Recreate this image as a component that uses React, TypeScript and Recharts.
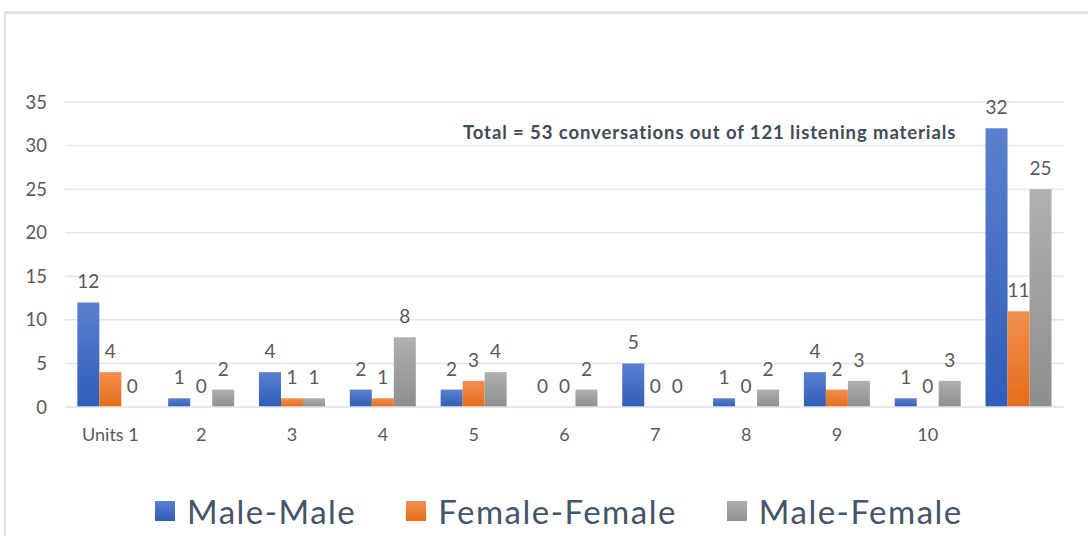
import React from "react";
import { BarChart, Bar, XAxis, YAxis, CartesianGrid, Legend, LabelList } from "recharts";

const units = ["Units 1", "2", "3", "4", "5", "6", "7", "8", "9", "10", ""];
const maleMale = [12, 1, 4, 2, 2, 0, 5, 1, 4, 1, 32];
const femaleFemale = [4, 0, 1, 1, 3, 0, 0, 0, 2, 0, 11];
const maleFemale = [0, 2, 1, 8, 4, 2, 0, 2, 3, 3, 25];
const yTicks = [0, 5, 10, 15, 20, 25, 30, 35];

const seriesInfo = [
  { key: "mm", name: "Male-Male", top: "#5b80cf", bottom: "#2f5db8" },
  { key: "ff", name: "Female-Female", top: "#f28f52", bottom: "#e66c18" },
  { key: "mf", name: "Male-Female", top: "#b0b0b0", bottom: "#8e8e8e" },
];

const data = units.map((u, i) => ({
  unit: u,
  mm: maleMale[i],
  ff: femaleFemale[i],
  mf: maleFemale[i],
}));

const FONT = "Lato, 'Liberation Sans', sans-serif";

const LegendBox = () => (
  <div
    style={{
      height: 50,
      display: "flex",
      alignItems: "center",
      paddingLeft: 155,
      fontFamily: FONT,
      fontSize: 33,
      letterSpacing: 1.5,
      color: "#44546a",
      gap: 50,
    }}
  >
    {seriesInfo.map((s) => (
      <div key={s.key} style={{ display: "flex", alignItems: "center" }}>
        <span
          style={{
            display: "inline-block",
            width: 20,
            height: 20,
            marginRight: 12,
            background: `linear-gradient(${s.top}, ${s.bottom})`,
          }}
        />
        <span>{s.name}</span>
      </div>
    ))}
  </div>
);

// keep zero-valued bars in the layout so their "0" labels are drawn
const zeroSize = (v: number) => (v === 0 ? 0.01 : 0);

const App: React.FC = () => {
  return (
    <div
      style={{
        position: "absolute",
        left: 0,
        top: 0,
        width: 1088,
        height: 536,
        background: "#fff",
        overflow: "hidden",
      }}
    >
      <div
        style={{
          position: "absolute",
          left: 4,
          top: 11,
          width: 1100,
          height: 600,
          borderLeft: "2px solid #dfe3ea",
          borderTop: "3px solid #dfe3ea",
        }}
      />
      <BarChart
        width={1088}
        height={536}
        data={data}
        margin={{ top: 102, right: 24, bottom: 0, left: 0 }}
        barCategoryGap="13.6%"
        barGap={0}
      >
        <defs>
          {seriesInfo.map((s) => (
            <linearGradient key={s.key} id={`grad-${s.key}`} x1="0" y1="0" x2="0" y2="1">
              <stop offset="0%" stopColor={s.top} />
              <stop offset="100%" stopColor={s.bottom} />
            </linearGradient>
          ))}
        </defs>
        <CartesianGrid vertical={false} stroke="#e3e6ec" strokeWidth={1.5} />
        <XAxis
          dataKey="unit"
          axisLine={{ stroke: "#e3e6ec", strokeWidth: 1.5 }}
          tickLine={false}
          height={79}
          tickMargin={15}
          interval={0}
          tick={{ fill: "#595959", fontSize: 18, fontFamily: FONT }}
        />
        <YAxis
          width={65}
          domain={[0, 35]}
          ticks={yTicks}
          axisLine={false}
          tickLine={false}
          tickMargin={12}
          tick={{ fill: "#595959", fontSize: 18.5, fontFamily: FONT }}
        />
        <Legend verticalAlign="bottom" content={() => <LegendBox />} />
        {seriesInfo.map((s) => (
          <Bar
            key={s.key}
            dataKey={s.key}
            name={s.name}
            fill={`url(#grad-${s.key})`}
            minPointSize={zeroSize}
            isAnimationActive={false}
          >
            <LabelList
              dataKey={s.key}
              position="top"
              offset={14}
              style={{ fill: "#595959", fontSize: 19, fontFamily: FONT }}
            />
          </Bar>
        ))}
      </BarChart>
      <div
        style={{
          position: "absolute",
          left: 463,
          top: 121,
          fontFamily: FONT,
          fontWeight: 700,
          fontSize: 18.5,
          letterSpacing: 0.9,
          color: "#404a58",
          whiteSpace: "nowrap",
        }}
      >
        Total = 53 conversations out of 121 listening materials
      </div>
    </div>
  );
};

export default App;
